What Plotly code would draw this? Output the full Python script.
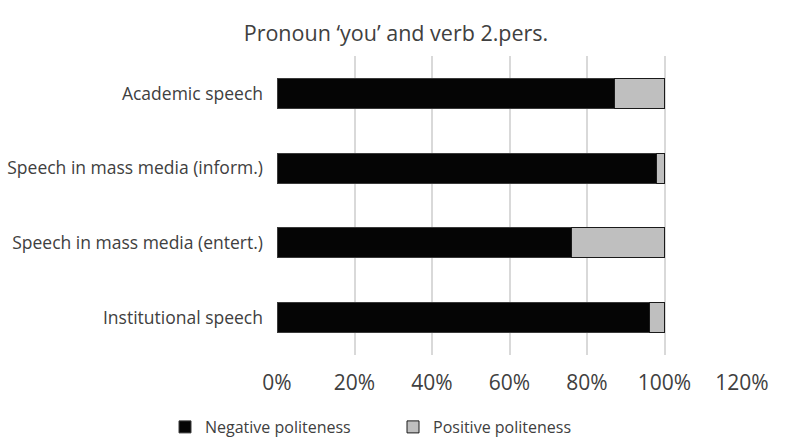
import plotly.graph_objects as go

# Share of each politeness strategy per speech type
categories = [
    "Academic speech",
    "Speech in mass media (inform.)",
    "Speech in mass media (entert.)",
    "Institutional speech",
]
negative = [0.87, 0.98, 0.76, 0.96]
positive = [0.13, 0.02, 0.24, 0.04]
x_ticks = [0, 0.2, 0.4, 0.6, 0.8, 1.0, 1.2]
x_tick_labels = ["0%", "20%", "40%", "60%", "80%", "100%", "120%"]

font_family = "'Open Sans', Lato, sans-serif"
text_color = "#404040"

fig = go.Figure()
fig.add_trace(go.Bar(
    y=categories, x=negative, orientation="h", name="Negative politeness",
    marker=dict(color="#050505", line=dict(color="#3a3a3a", width=1)),
    legend="legend",
))
fig.add_trace(go.Bar(
    y=categories, x=positive, orientation="h", name="Positive politeness",
    marker=dict(color="#bfbfbf", line=dict(color="#1a1a1a", width=1)),
    legend="legend2",
))

legend_style = dict(
    orientation="h", xanchor="left", xref="container",
    y=13 / 440, yanchor="middle", yref="container",
    font=dict(size=16, color=text_color, family=font_family),
    itemwidth=30, bgcolor="rgba(0,0,0,0)",
)

fig.update_layout(
    barmode="stack",
    bargap=0.6,
    showlegend=True,
    width=792, height=440,
    margin=dict(l=277, r=49.5, t=56, b=85, autoexpand=False),
    paper_bgcolor="white", plot_bgcolor="white",
    font=dict(family=font_family, color=text_color),
    title=dict(
        text="Pronoun \u2018you\u2019 and verb 2.pers.",
        x=0.5, xanchor="center", xref="container",
        y=1 - 33 / 440, yanchor="middle", yref="container",
        font=dict(size=21.5, color=text_color, family=font_family),
    ),
    xaxis=dict(
        range=[0, 1.2], tickvals=x_ticks, ticktext=x_tick_labels,
        showgrid=True, gridcolor="#d9d9d9", gridwidth=1.5,
        zeroline=False, showline=False, ticks="", automargin=False,
        tickfont=dict(size=21, color=text_color), ticklabelstandoff=13,
    ),
    yaxis=dict(
        categoryorder="array", categoryarray=categories[::-1],
        showgrid=False, zeroline=False, showline=False, ticks="", automargin=False,
        tickfont=dict(size=17.5, color=text_color), ticklabelstandoff=13,
    ),
    legend=dict(legend_style, x=(185 - 20) / 792),
    legend2=dict(legend_style, x=(413 - 20) / 792),
)

fig.write_html("out.html")
